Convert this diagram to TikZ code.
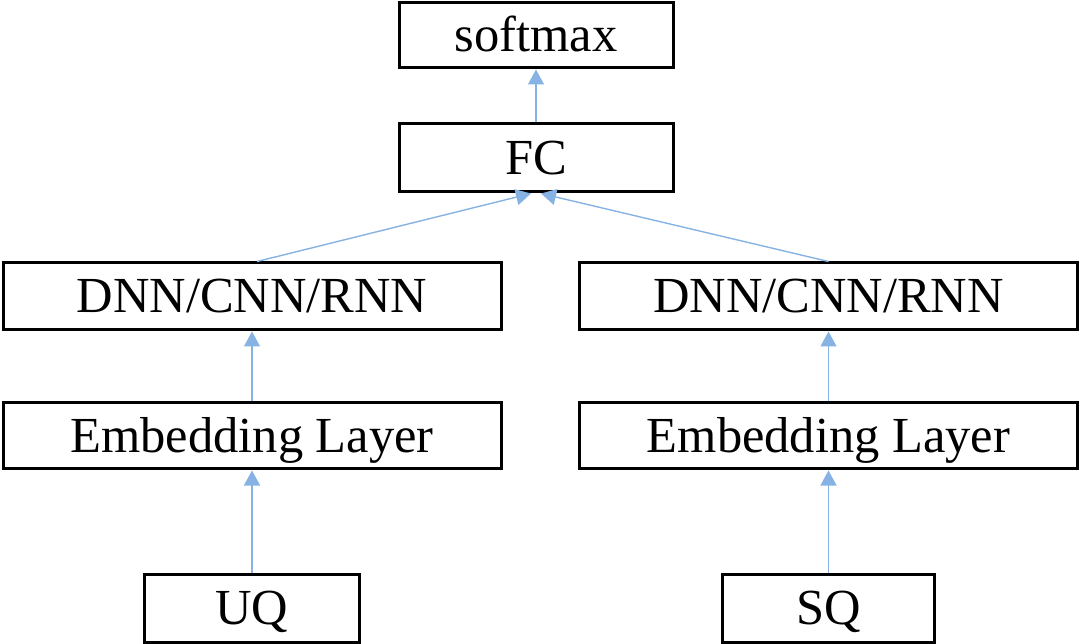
\documentclass[tikz,border=0pt]{standalone}
\usepackage{fontspec}
\setmainfont{Liberation Serif}
\usetikzlibrary{arrows.meta}
\definecolor{arrowblue}{HTML}{86B3E3}
\tikzset{
  box/.style={draw=black, line width=3pt, fill=white, inner sep=0pt,
    font=\fontsize{50.5}{56}\selectfont, text height=33pt, text depth=0pt},
  conn/.style={draw=arrowblue, line width=1.4pt,
    -{Triangle[width=16pt,length=15pt]}}
}
\begin{document}
\begin{tikzpicture}[x=1pt,y=-1pt]
\useasboundingbox (0,0) rectangle (1080,644);
\node[box, minimum width=274pt, minimum height=65pt] (soft) at (536,35.5) {softmax};
\node[box, minimum width=274pt, minimum height=68pt] (fc) at (536,158) {FC};
\node[box, minimum width=498pt, minimum height=67pt] (dnnL) at (252,296.5) {DNN/CNN/RNN};
\node[box, minimum width=498pt, minimum height=67pt] (dnnR) at (828.5,296.5) {DNN/CNN/RNN};
\node[box, minimum width=498pt, minimum height=66pt] (embL) at (252,436) {Embedding Layer};
\node[box, minimum width=498pt, minimum height=66pt] (embR) at (828.5,436) {Embedding Layer};
\node[box, minimum width=215pt, minimum height=68pt] (uq) at (252,608) {UQ};
\node[box, minimum width=212pt, minimum height=68pt] (sq) at (828.5,608) {SQ};
\draw[conn] (uq.north) -- (embL.south);
\draw[conn] (sq.north) -- (embR.south);
\draw[conn] (embL.north) -- (dnnL.south);
\draw[conn] (embR.north) -- (dnnR.south);
\draw[conn] ([xshift=5pt]dnnL.north) -- ([xshift=-5pt]fc.south);
\draw[conn] (dnnR.north) -- ([xshift=5pt]fc.south);
\draw[conn] (fc.north) -- (soft.south);
\end{tikzpicture}
\end{document}
